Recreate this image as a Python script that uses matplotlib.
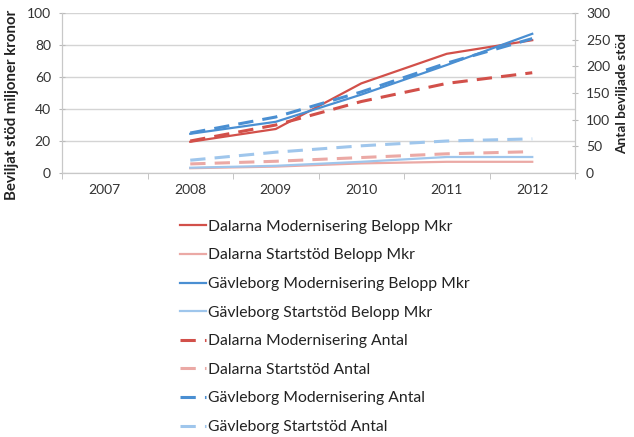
import matplotlib
matplotlib.use("Agg")
import matplotlib.pyplot as plt
import numpy as np

plt.rcParams['font.family'] = ['Lato', 'DejaVu Sans']

years = ['2007', '2008', '2009', '2010', '2011', '2012']
data_years = ['2008', '2009', '2010', '2011', '2012']

# Belopp (Mkr), left axis
dalarna_mod_belopp = [19.5, 27.5, 56, 74.5, 83]
dalarna_start_belopp = [3, 4, 6, 7, 7]
gavleborg_mod_belopp = [24.5, 32, 49, 67.5, 87]
gavleborg_start_belopp = [3.3, 4.5, 7, 10, 10]

# Antal, right axis
dalarna_mod_antal = [60, 90, 134, 168, 188]
dalarna_start_antal = [17, 22, 29, 36, 40]
gavleborg_mod_antal = [75, 105, 152, 206, 252]
gavleborg_start_antal = [24, 39, 51, 60, 64]

labels = ['Dalarna Modernisering Belopp Mkr', 'Dalarna Startstöd Belopp Mkr',
          'Gävleborg Modernisering Belopp Mkr', 'Gävleborg Startstöd Belopp Mkr',
          'Dalarna Modernisering Antal', 'Dalarna Startstöd Antal',
          'Gävleborg Modernisering Antal', 'Gävleborg Startstöd Antal']

red = '#d2504a'
pale_red = '#eba9a5'
blue = '#4a8fd2'
pale_blue = '#9fc6ec'

fig = plt.figure(figsize=(6.34, 4.37), dpi=100)
ax = fig.add_axes([62/634, 1-173/437, (575-62)/634, (173-13)/437])
ax2 = ax.twinx()

xpos = [years.index(y) for y in data_years]
lw = 1.6
dash = (5, 3)

h = []
h += ax.plot(xpos, dalarna_mod_belopp, color=red, lw=lw)
h += ax.plot(xpos, dalarna_start_belopp, color=pale_red, lw=lw)
h += ax.plot(xpos, gavleborg_mod_belopp, color=blue, lw=lw)
h += ax.plot(xpos, gavleborg_start_belopp, color=pale_blue, lw=lw)
h += ax2.plot(xpos, dalarna_mod_antal, color=red, lw=2.2, dashes=dash)
h += ax2.plot(xpos, dalarna_start_antal, color=pale_red, lw=2.2, dashes=dash)
h += ax2.plot(xpos, gavleborg_mod_antal, color=blue, lw=2.2, dashes=dash)
h += ax2.plot(xpos, gavleborg_start_antal, color=pale_blue, lw=2.2, dashes=dash)

ax.set_xlim(-0.5, len(years) - 0.5)
ax.set_ylim(0, 100)
ax2.set_ylim(0, 300)
ax.set_yticks(np.arange(0, 101, 20))
ax2.set_yticks(np.arange(0, 301, 50))
ax.set_xticks(range(len(years)))
ax.set_xticklabels(years)
ax.set_xticks(np.arange(-0.5, len(years), 1), minor=True)
ax.tick_params(axis='x', which='major', length=0, pad=8, labelsize=10, colors='#333333')
ax.tick_params(axis='x', which='minor', length=4, color='#bbbbbb', direction='out')
ax.tick_params(axis='y', length=4, color='#bbbbbb', direction='inout', labelsize=10, colors='#333333', pad=6)
ax2.tick_params(axis='y', length=4, color='#bbbbbb', direction='inout', labelsize=10, colors='#333333', pad=6)
for lab in ax.get_yticklabels() + ax2.get_yticklabels():
    lab.set_color('#333333')

ax.yaxis.grid(True, color='#d4d4d4', lw=1)
ax.set_axisbelow(True)
for a in (ax, ax2):
    a.spines['top'].set_visible(False)
    for s in ('left', 'right', 'bottom'):
        a.spines[s].set_color('#c8c8c8')

fig.text(12/634, 1-105/437, 'Beviljat stöd miljoner kronor', rotation=90,
         ha='center', va='center', fontsize=10.8, fontweight='bold', color='#222222')
fig.text(622/634, 1-93/437, 'Antal beviljade stöd', rotation=90,
         ha='center', va='center', fontsize=9.8, fontweight='bold', color='#222222')

fig.legend(h, labels, loc='upper left', bbox_to_anchor=(172/634, 1-212/437),
           frameon=False, fontsize=11.3, handlelength=1.65, handletextpad=0.15,
           labelspacing=0.93, borderpad=0, labelcolor='#222222')

fig.savefig('out.png', dpi=100)
